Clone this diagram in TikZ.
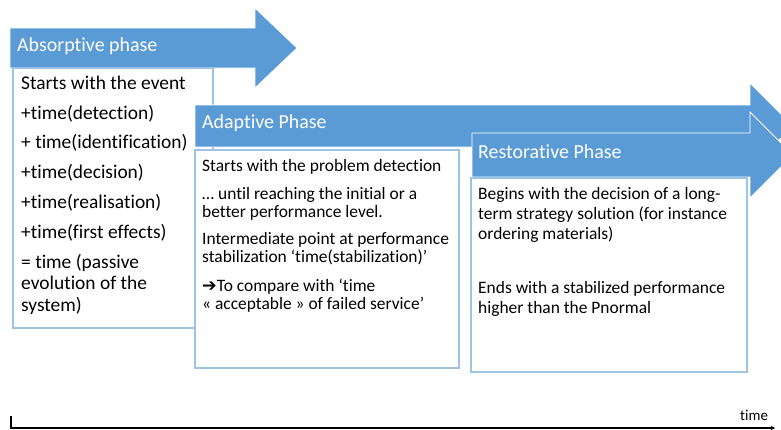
\documentclass[tikz,border=0pt]{standalone}
\usepackage{fontspec}
\setmainfont{Carlito}[Ligatures=NoCommon]
\newfontfamily\symfont{DejaVu Sans}
\usetikzlibrary{arrows.meta}
\definecolor{phaseblue}{HTML}{5B9BD5}
\definecolor{boxblue}{HTML}{9DC3E6}
\begin{document}
\begin{tikzpicture}[x=1bp,y=-1bp,
  phasearrow/.style={fill=phaseblue, draw=white, line width=0.8bp, line join=miter},
  textbox/.style={fill=white, draw=boxblue, line width=1.2bp},
  headtxt/.style={anchor=base west, inner sep=0pt, text=white, font=\fontsize{20}{24}\selectfont},
  bodyA/.style={anchor=base west, inner sep=0pt, font=\fontsize{19.5}{23}\selectfont},
  bodyB/.style={anchor=base west, inner sep=0pt, font=\fontsize{17.5}{21}\selectfont},
  axisline/.style={line width=1.5bp, black}]
\useasboundingbox (0,0) rectangle (781,429);

% Absorptive phase
\draw[phasearrow] (10,28) -- (255,28) -- (255,8) -- (297,48) -- (255,88) -- (255,68) -- (10,68) -- cycle;
\node[headtxt] (h1) at (17,51.5) {Absorptive phase};
\draw[textbox] (13,68) rectangle (213,328);
\node[bodyA] (a1) at (21,89) {Starts with the event};
\node[bodyA] (a2) at (21,119) {+time(detection)};
\node[bodyA] (a3) at (21,148.5) {+ time(identification)};
\node[bodyA] (a4) at (21,178.5) {+time(decision)};
\node[bodyA] (a5) at (21,208) {+time(realisation)};
\node[bodyA] (a6) at (21,238) {+time(first effects)};
\node[bodyA] (a7) at (21,268) {= time (passive};
\node[bodyA] (a8) at (21,289.5) {evolution of the};
\node[bodyA] (a9) at (21,311) {system)};

% Adaptive phase
\draw[phasearrow] (195,105) -- (750,105) -- (750,83) -- (793,126) -- (750,169) -- (750,147) -- (195,147) -- cycle;
\node[headtxt] (h2) at (202,128.5) {Adaptive Phase};
\draw[textbox] (195,150) rectangle (459,368);
\node[bodyB] (b1) at (202,171) {Starts with the problem detection};
\node[bodyB] (b2) at (202,199) {… until reaching the initial or a};
\node[bodyB] (b3) at (202,217.5) {better performance level.};
\node[bodyB] (b4) at (202,244) {Intermediate point at performance};
\node[bodyB] (b5) at (202,262.5) {stabilization ‘time(stabilization)’};
\node[bodyB] (b6) at (202,291) {{\symfont\bfseries ➔}To compare with ‘time};
\node[bodyB] (b7) at (202,309.5) {« acceptable » of failed service’};

% Restorative phase
\draw[phasearrow] (472,133) -- (750,133) -- (750,112) -- (793,155) -- (750,198) -- (750,177) -- (472,177) -- cycle;
\node[headtxt] (h3) at (478,158.5) {Restorative Phase};
\draw[textbox] (471,178) rectangle (747,372);
\node[bodyB] (c1) at (478,199) {Begins with the decision of a long-};
\node[bodyB] (c2) at (478,219) {term strategy solution (for instance};
\node[bodyB] (c3) at (478,239) {ordering materials)};
\node[bodyB] (c4) at (478,293) {Ends with a stabilized performance};
\node[bodyB] (c5) at (478,313) {higher than the Pnormal};

% time axis
\coordinate (axL) at (11,416);
\coordinate (axO) at (11,428);
\coordinate (axR) at (775,428);
\draw[axisline, -{Stealth[length=4bp,width=4bp]}] (axL) -- (axO) -- (axR);
\node[anchor=base west, inner sep=0pt, font=\fontsize{15}{18}\selectfont] (timelbl) at (740,420) {time};
\end{tikzpicture}
\end{document}
